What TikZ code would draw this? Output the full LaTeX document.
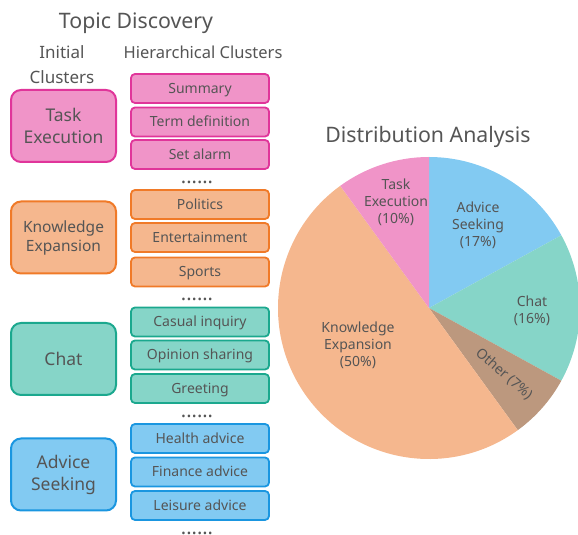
\documentclass[tikz,border=0pt]{standalone}
\usepackage{fontspec}
\setmainfont{Noto Sans}
\usepackage{xcolor}
\usepackage{tikz}
\usetikzlibrary{positioning, shapes, calc}

\definecolor{txtgray}{RGB}{85,85,85}
\definecolor{taskfill}{RGB}{240,148,200}
\definecolor{taskline}{RGB}{224,53,154}
\definecolor{knowfill}{RGB}{245,183,142}
\definecolor{knowline}{RGB}{240,122,40}
\definecolor{chatfill}{RGB}{134,213,200}
\definecolor{chatline}{RGB}{27,168,142}
\definecolor{advfill}{RGB}{130,202,242}
\definecolor{advline}{RGB}{26,150,224}
\definecolor{othfill}{RGB}{188,152,126}

\begin{document}
\begin{tikzpicture}[x=1pt, y=1pt, every node/.style={text=txtgray}]
			\tikzstyle{initcluster}=[draw, line width=2pt, rounded corners=10pt, minimum width=105pt, minimum height=72pt, align=center, font=\fontsize{17.5}{22}\selectfont]
			\tikzstyle{subcluster}=[draw, line width=1.8pt, rounded corners=4pt, minimum width=138pt, minimum height=29pt, text height=12pt, text depth=2pt, font=\fontsize{14}{17}\selectfont]
			\tikzstyle{moredots}=[anchor=base, font=\fontsize{20}{24}\selectfont]
			\tikzstyle{slicelabel}=[align=center, font=\fontsize{14}{17}\selectfont]
			\useasboundingbox (0,0) rectangle (578,535);
			
			\node (title1) at (136,512) [font=\fontsize{21.3}{25}\selectfont] {Topic Discovery};
			\node (hinit) at (62,470.5) [align=center, font=\fontsize{17}{25}\selectfont] {Initial\\Clusters};
			\node (hsub) at (203,483) [font=\fontsize{16.5}{25}\selectfont] {Hierarchical Clusters};
			
			\node (task) at (63.5,409) [initcluster, draw=taskline, fill=taskfill] {Task\\Execution};
			\node (know) at (63.5,297.5) [initcluster, draw=knowline, fill=knowfill, font=\fontsize{15.5}{19}\selectfont] {Knowledge\\Expansion};
			\node (chat) at (63.5,176) [initcluster, draw=chatline, fill=chatfill] {Chat};
			\node (adv) at (63.5,60.5) [initcluster, draw=advline, fill=advfill] {Advice\\Seeking};
			
			\node (s1) at (200,446.5) [subcluster, draw=taskline, fill=taskfill] {Summary};
			\node (s2) at (200,413) [subcluster, draw=taskline, fill=taskfill] {Term definition};
			\node (s3) at (200,380.5) [subcluster, draw=taskline, fill=taskfill] {Set alarm};
			\node (d1) at (197,351.5) [moredots] {......};
			
			\node (k1) at (200,330.5) [subcluster, draw=knowline, fill=knowfill] {Politics};
			\node (k2) at (200,297.5) [subcluster, draw=knowline, fill=knowfill] {Entertainment};
			\node (k3) at (200,263) [subcluster, draw=knowline, fill=knowfill] {Sports};
			\node (d2) at (197,234.5) [moredots] {......};
			
			\node (c1) at (200,213) [subcluster, draw=chatline, fill=chatfill] {Casual inquiry};
			\node (c2) at (200,180) [subcluster, draw=chatline, fill=chatfill] {Opinion sharing};
			\node (c3) at (200,146.5) [subcluster, draw=chatline, fill=chatfill] {Greeting};
			\node (d3) at (197,117.5) [moredots] {......};
			
			\node (a1) at (200,96.5) [subcluster, draw=advline, fill=advfill] {Health advice};
			\node (a2) at (200,63) [subcluster, draw=advline, fill=advfill] {Finance advice};
			\node (a3) at (200,29.5) [subcluster, draw=advline, fill=advfill] {Leisure advice};
			\node (d4) at (197,0.5) [moredots] {......};
			
			%% pie chart
			\node (title2) at (428,398) [font=\fontsize{21.3}{25}\selectfont] {Distribution Analysis};
			\coordinate (pc) at (429,227);
			\fill [advfill] (pc) -- ++(90:151) arc (90:28.8:151) -- cycle;
			\fill [chatfill] (pc) -- ++(28.8:151) arc (28.8:-28.8:151) -- cycle;
			\fill [othfill] (pc) -- ++(-28.8:151) arc (-28.8:-54:151) -- cycle;
			\fill [knowfill] (pc) -- ++(-54:151) arc (-54:-234:151) -- cycle;
			\fill [taskfill] (pc) -- ++(126:151) arc (126:90:151) -- cycle;
			
			\node (ltask) at (396,333) [slicelabel] {Task\\Execution\\(10\%)};
			\node (ladv) at (478,310) [slicelabel] {Advice\\Seeking\\(17\%)};
			\node (lchat) at (532,224.5) [slicelabel] {Chat\\(16\%)};
			\node (lknow) at (358,189.5) [slicelabel] {Knowledge\\Expansion\\(50\%)};
			\node (loth) at (504,161) [slicelabel, rotate=-41.4] {Other (7\%)};
\end{tikzpicture}
\end{document}
